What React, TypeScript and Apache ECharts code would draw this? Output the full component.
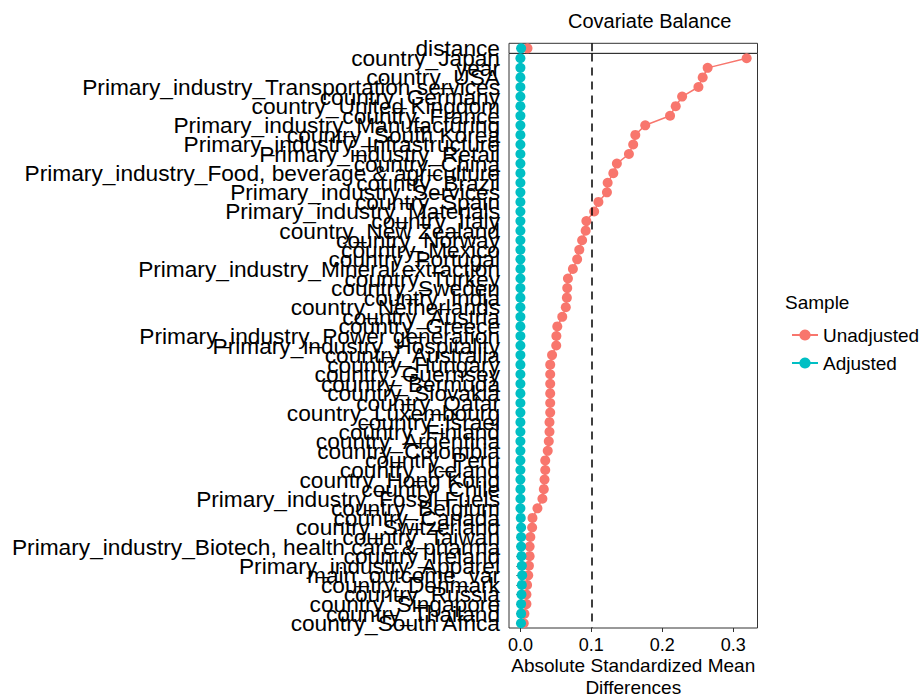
import React, { useEffect, useRef } from "react";
import * as echarts from "echarts";

const distanceLabel = ["distance"];
const distanceUnadjusted = [0.010];
const distanceAdjusted = [0.001];

const covariates = [
  "country_Japan",
  "year",
  "country_USA",
  "Primary_industry_Transportation services",
  "country_Germany",
  "country_United Kingdom",
  "country_France",
  "Primary_industry_Manufacturing",
  "country_South Korea",
  "Primary_industry_Infrastructure",
  "Primary_industry_Retail",
  "country_China",
  "Primary_industry_Food, beverage & agriculture",
  "country_Brazil",
  "Primary_industry_Services",
  "country_Spain",
  "Primary_industry_Materials",
  "country_Italy",
  "country_New Zealand",
  "country_Norway",
  "country_Mexico",
  "country_Portugal",
  "Primary_industry_Mineral extraction",
  "country_Turkey",
  "country_Sweden",
  "country_India",
  "country_Netherlands",
  "country_Austria",
  "country_Greece",
  "Primary_industry_Power generation",
  "Primary_industry_Hospitality",
  "country_Australia",
  "country_Hungary",
  "country_Guernsey",
  "country_Bermuda",
  "country_Slovakia",
  "country_Qatar",
  "country_Luxembourg",
  "country_Israel",
  "country_Finland",
  "country_Argentina",
  "country_Colombia",
  "country_Peru",
  "country_Iceland",
  "country_Hong Kong",
  "country_Chile",
  "Primary_industry_Fossil Fuels",
  "country_Belgium",
  "country_Canada",
  "country_Switzerland",
  "country_Taiwan",
  "Primary_industry_Biotech, health care & pharma",
  "country_Ireland",
  "Primary_industry_Apparel",
  "main_outcome_var",
  "country_Denmark",
  "country_Russia",
  "country_Singapore",
  "country_Thailand",
  "country_South Africa",
];

const unadjusted = [
  0.319, 0.264, 0.257, 0.251, 0.228, 0.219, 0.211, 0.176, 0.162, 0.159,
  0.153, 0.136, 0.131, 0.123, 0.122, 0.110, 0.104, 0.093, 0.092, 0.087,
  0.083, 0.080, 0.074, 0.067, 0.066, 0.0655, 0.064, 0.059, 0.052, 0.0507,
  0.0505, 0.0446, 0.042, 0.042, 0.042, 0.042, 0.042, 0.042, 0.041, 0.041,
  0.040, 0.0385, 0.035, 0.035, 0.034, 0.033, 0.031, 0.024, 0.017, 0.0165,
  0.014, 0.013, 0.013, 0.012, 0.011, 0.0094, 0.0085, 0.0085, 0.0056, 0.0047,
];

const adjusted = [
  0, 0, 0, 0, 0, 0, 0, 0, 0, 0,
  0, 0, 0, 0, 0, 0, 0, 0, 0, 0,
  0, 0, 0, 0, 0, 0, 0, 0, 0, 0,
  0, 0, 0, 0, 0, 0, 0, 0, 0, 0,
  0, 0, 0, 0, 0, 0, 0, 0, 0.0005, 0.001,
  0.001, 0.001, 0.0015, 0.002, 0.0025, 0.002, 0.0015, 0.001, 0.001, 0.0008,
];

const xTicks = [0, 0.1, 0.2, 0.3];
const threshold = 0.1;

const FONT = "'Liberation Sans', Arial, Helvetica, sans-serif";
const RED = "#F8766D";
const CYAN = "#00BFC4";

export default function App() {
  const ref = useRef<HTMLDivElement>(null);
  useEffect(() => {
    const chart = echarts.init(ref.current!, null, { renderer: "svg" });
    const xMin = -0.0161;
    const xMax = 0.3343;
    const dashed = {
      silent: true,
      symbol: "none",
      label: { show: false },
      lineStyle: { type: [8, 6], color: "#000", width: 1.5 },
      data: [{ xAxis: threshold }],
    };
    const option: any = {
      animation: false,
      backgroundColor: "#fff",
      textStyle: { fontFamily: FONT },
      title: {
        text: "Covariate Balance",
        left: 568,
        top: 11,
        padding: 0,
        textStyle: { fontFamily: FONT, fontSize: 20, fontWeight: "normal", color: "#000" },
      },
      legend: {
        orient: "vertical",
        left: 791,
        top: 325,
        padding: 0,
        itemWidth: 26,
        itemHeight: 14,
        itemGap: 8,
        data: ["Unadjusted", "Adjusted"],
        textStyle: { fontFamily: FONT, fontSize: 19, lineHeight: 20, color: "#000" },
      },
      graphic: [
        {
          type: "text",
          left: 785,
          top: 293,
          style: { text: "Sample", font: `19px ${FONT}`, fill: "#000" },
        },
      ],
      grid: [
        { left: 509, width: 248.5, top: 43.3, height: 10, show: true, borderColor: "#333", borderWidth: 1, backgroundColor: "#fff", outerBoundsMode: "none", containLabel: false },
        { left: 509, width: 248.5, top: 53.5, height: 574.5, show: true, borderColor: "#333", borderWidth: 1, backgroundColor: "#fff", outerBoundsMode: "none", containLabel: false },
      ],
      xAxis: [
        {
          type: "value", gridIndex: 0, min: xMin, max: xMax,
          axisLine: { show: false }, axisTick: { show: false }, axisLabel: { show: false }, splitLine: { show: false },
        },
        {
          type: "value", gridIndex: 1, min: xMin, max: xMax,
          axisLine: { show: false },
          axisTick: { show: true, customValues: xTicks, length: 4, lineStyle: { color: "#333" } },
          axisLabel: {
            customValues: xTicks,
            formatter: (v: number) => v.toFixed(1),
            fontSize: 18, color: "#000", margin: 8, fontFamily: FONT,
          },
          splitLine: { show: false },
          name: "Absolute Standardized Mean\nDifferences",
          nameLocation: "middle",
          nameGap: 48,
          nameMoveOverlap: false,
          nameTextStyle: { fontSize: 19, lineHeight: 22, color: "#000", fontFamily: FONT, verticalAlign: "middle" },
        },
      ],
      yAxis: [
        {
          type: "category", gridIndex: 0, data: distanceLabel, inverse: true,
          axisLine: { show: false },
          axisTick: { show: true, alignWithLabel: true, length: 4, lineStyle: { color: "#333" } },
          axisLabel: { interval: 0, fontSize: 22.7, color: "#000", margin: 9, fontFamily: FONT },
        },
        {
          type: "category", gridIndex: 1, data: covariates, inverse: true,
          axisLine: { show: false },
          axisTick: { show: true, alignWithLabel: true, interval: 0, length: 4, lineStyle: { color: "#333" } },
          axisLabel: { interval: 0, fontSize: 22.7, color: "#000", margin: 9, fontFamily: FONT },
        },
      ],
      series: [
        {
          name: "Unadjusted", type: "line", xAxisIndex: 0, yAxisIndex: 0,
          data: distanceUnadjusted.map((v, i) => [v, distanceLabel[i]]),
          symbol: "circle", symbolSize: 10, color: RED, lineStyle: { width: 1.5 },
          markLine: dashed,
        },
        {
          name: "Adjusted", type: "line", xAxisIndex: 0, yAxisIndex: 0,
          data: distanceAdjusted.map((v, i) => [v, distanceLabel[i]]),
          symbol: "circle", symbolSize: 10, color: CYAN, lineStyle: { width: 1.5 },
        },
        {
          name: "Unadjusted", type: "line", xAxisIndex: 1, yAxisIndex: 1,
          data: unadjusted.map((v, i) => [v, covariates[i]]),
          symbol: "circle", symbolSize: 10, color: RED, lineStyle: { width: 1.5 },
          markLine: dashed,
        },
        {
          name: "Adjusted", type: "line", xAxisIndex: 1, yAxisIndex: 1,
          data: adjusted.map((v, i) => [v, covariates[i]]),
          symbol: "circle", symbolSize: 10, color: CYAN, lineStyle: { width: 1.5 },
        },
      ],
    };
    chart.setOption(option);
    return () => chart.dispose();
  }, []);
  return (
    <div
      ref={ref}
      style={{ position: "absolute", left: 0, top: 0, width: 924, height: 698 }}
    />
  );
}
